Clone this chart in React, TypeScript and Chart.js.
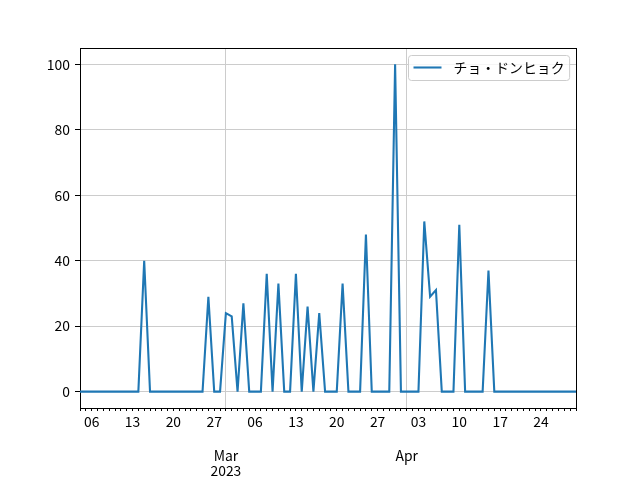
import { useEffect, useRef } from "react";
import { Chart, registerables } from "chart.js";
Chart.register(...registerables);

// Daily series, starting 2023-02-04 and ending 2023-04-30
const startYear = 2023;
const startMonth = 1; // February (0-based)
const startDay = 4;
const seriesLabel = "チョ・ドンヒョク";
const values = [
  // Feb 4 - Feb 28
  0, 0, 0, 0, 0, 0, 0, 0, 0, 0, 0, 40, 0, 0, 0, 0, 0, 0, 0, 0, 0, 0, 29, 0, 0,
  // Mar 1 - Mar 31
  24, 23, 0, 27, 0, 0, 0, 36, 0, 33, 0, 0, 36, 0, 26, 0, 24, 0, 0, 0, 33, 0, 0, 0, 48, 0, 0, 0, 0, 100, 0,
  // Apr 1 - Apr 30
  0, 0, 0, 52, 29, 31, 0, 0, 0, 51, 0, 0, 0, 0, 37, 0, 0, 0, 0, 0, 0, 0, 0, 0, 0, 0, 0, 0, 0, 0,
];
const monthTickDays = [25, 56];
const monthTickLabels = [["Mar", "2023"], ["Apr"]];
const yTicks = [0, 20, 40, 60, 80, 100];

const dates = values.map((_, i) => new Date(Date.UTC(startYear, startMonth, startDay + i)));
const points = values.map((v, i) => ({ x: i, y: v }));

const FONT = "'Noto Sans CJK JP', 'Noto Sans', sans-serif";
const FS = 13.9;
const LINE_COLOR = "#1f77b4";
const GRID = "#cccccc";
const LW = 2.08;

const framePlugin = {
  id: "frame",
  afterDraw(chart: any) {
    const { ctx, chartArea } = chart;
    const { left, right, top, bottom } = chartArea;
    ctx.save();
    ctx.strokeStyle = "#000";
    ctx.lineWidth = 1;
    ctx.beginPath();
    ctx.moveTo(left, top + 0.5);
    ctx.lineTo(right + 1, top + 0.5);
    ctx.moveTo(right + 0.5, top);
    ctx.lineTo(right + 0.5, bottom + 1);
    ctx.stroke();

    // legend in the upper right corner of the plot area
    const ds = chart.data.datasets[0];
    ctx.font = `${FS}px ${FONT}`;
    const tw = ctx.measureText(ds.label).width;
    const boxW = 5 + 28 + 12 + tw + 5;
    const boxH = 25;
    const bx = Math.round(right - 7 - boxW) + 0.5;
    const by = top + 7 + 0.5;
    const r = 3;
    ctx.lineWidth = 1;
    ctx.beginPath();
    ctx.moveTo(bx + r, by);
    ctx.lineTo(bx + boxW - r, by);
    ctx.arcTo(bx + boxW, by, bx + boxW, by + r, r);
    ctx.lineTo(bx + boxW, by + boxH - r);
    ctx.arcTo(bx + boxW, by + boxH, bx + boxW - r, by + boxH, r);
    ctx.lineTo(bx + r, by + boxH);
    ctx.arcTo(bx, by + boxH, bx, by + boxH - r, r);
    ctx.lineTo(bx, by + r);
    ctx.arcTo(bx, by, bx + r, by, r);
    ctx.closePath();
    ctx.fillStyle = "rgba(255,255,255,0.8)";
    ctx.fill();
    ctx.strokeStyle = GRID;
    ctx.stroke();
    const ly = by + 12;
    ctx.strokeStyle = ds.borderColor;
    ctx.lineWidth = LW;
    ctx.beginPath();
    ctx.moveTo(bx + 5, ly);
    ctx.lineTo(bx + 33, ly);
    ctx.stroke();
    ctx.fillStyle = "#000";
    ctx.textBaseline = "middle";
    ctx.textAlign = "left";
    ctx.fillText(ds.label, bx + 45, ly);
    ctx.restore();
  },
};

export default function App() {
  const ref = useRef<HTMLCanvasElement>(null);
  useEffect(() => {
    if (!ref.current) return;
    const chart = new Chart(ref.current, {
      type: "line",
      data: {
        datasets: [
          {
            label: seriesLabel,
            data: points,
            borderColor: LINE_COLOR,
            backgroundColor: LINE_COLOR,
            borderWidth: LW,
            pointRadius: 0,
            tension: 0,
            fill: false,
          },
        ],
      },
      options: {
        responsive: false,
        animation: false,
        layout: { padding: { left: 0, top: 48, right: 64, bottom: 0 } },
        plugins: { legend: { display: false }, tooltip: { enabled: false } },
        scales: {
          x: {
            type: "linear",
            position: "bottom",
            min: 0,
            max: values.length - 1,
            weight: 0,
            afterBuildTicks: (scale: any) => {
              scale.ticks = dates.map((_, i) => ({ value: i }));
            },
            afterFit: (scale: any) => {
              scale.height = 30;
            },
            ticks: {
              autoSkip: false,
              maxRotation: 0,
              minRotation: 0,
              padding: 2,
              color: "#000",
              font: { family: FONT, size: FS, lineHeight: 1.2 },
              callback: (value: any) => {
                const d = dates[Math.round(value)];
                if (!d || d.getUTCDay() !== 1) return "";
                return String(d.getUTCDate()).padStart(2, "0");
              },
            },
            grid: {
              color: (c: any) => (c.tick && monthTickDays.includes(c.tick.value) ? GRID : "rgba(0,0,0,0)"),
              lineWidth: 1,
              tickLength: 3,
              tickColor: "#000",
              tickWidth: 1,
            },
            border: { display: true, color: "#000", width: 1 },
          },
          x2: {
            type: "linear",
            position: "bottom",
            min: 0,
            max: values.length - 1,
            weight: 1,
            afterBuildTicks: (scale: any) => {
              scale.ticks = monthTickDays.map((v) => ({ value: v }));
            },
            afterFit: (scale: any) => {
              scale.height = 42;
            },
            ticks: {
              autoSkip: false,
              maxRotation: 0,
              minRotation: 0,
              padding: 10,
              color: "#000",
              font: { family: FONT, size: FS, lineHeight: 1.08 },
              callback: (_v: any, i: number) => monthTickLabels[i],
            },
            grid: { display: false, drawTicks: false },
            border: { display: false },
          },
          y: {
            type: "linear",
            min: -5,
            max: 105,
            afterBuildTicks: (scale: any) => {
              scale.ticks = yTicks.map((v) => ({ value: v }));
            },
            afterFit: (scale: any) => {
              scale.width = 80;
            },
            ticks: {
              padding: 5,
              color: "#000",
              font: { family: FONT, size: FS },
            },
            grid: {
              color: GRID,
              lineWidth: 1,
              tickLength: 5,
              tickColor: "#000",
              tickWidth: 1,
            },
            border: { display: true, color: "#000", width: 1 },
          },
        },
      },
      plugins: [framePlugin],
    });
    return () => chart.destroy();
  }, []);
  return (
    <div style={{ position: "fixed", left: 0, top: 0, width: 640, height: 480, background: "#fff" }}>
      <canvas ref={ref} width={640} height={480} />
    </div>
  );
}
